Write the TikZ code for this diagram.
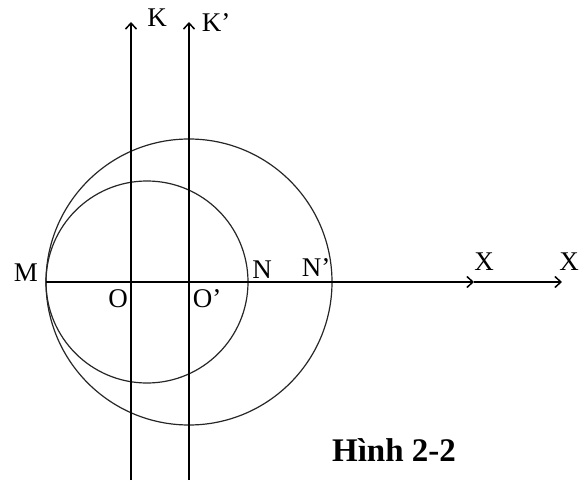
\documentclass[tikz,border=0pt]{standalone}
\usepackage{fontspec}
\setmainfont{Liberation Serif}
\usetikzlibrary{arrows.meta}
\begin{document}
\begin{tikzpicture}[x=1pt, y=-1pt, >={Straight Barb[length=6pt,width=11pt]},
    axis/.style={line width=1.5pt},
    ring/.style={line width=1.2pt, black!85},
    lbl/.style={font=\fontsize{27}{31}\selectfont, inner sep=0pt}]
  \useasboundingbox (0,0) rectangle (581,484);
  \coordinate (M) at (46,282);
  \coordinate (O) at (131,282);
  \coordinate (Op) at (189,282);
  \coordinate (N) at (247,282);
  \coordinate (Np) at (333,282);
  \coordinate (C) at (147,282);
  \coordinate (X1) at (474,282);
  \coordinate (X2) at (562,282);
  \coordinate (Kb) at (131,480);
  \coordinate (K) at (131,22);
  \coordinate (Kpb) at (189,480);
  \coordinate (Kp) at (189,22);
  % circles
  \draw[ring] (C) circle[radius=101pt];
  \draw[ring] (Op) circle[radius=143pt];
  % axes
  \draw[axis, ->] (Kb) -- (K);
  \draw[axis, ->] (Kpb) -- (Kp);
  \draw[axis, ->] (M) -- (X1);
  \draw[axis, ->] (X1) -- (X2);
  % labels
  \node[lbl] (lK) at (157,18) {K};
  \node[lbl] (lKp) at (216,23) {K’};
  \node[lbl] (lM) at (26,273) {M};
  \node[lbl] (lO) at (118,299) {O};
  \node[lbl] (lOp) at (207,299) {O’};
  \node[lbl] (lN) at (262,270) {N};
  \node[lbl] (lNp) at (316,268) {N’};
  \node[lbl] (lX1) at (484,262) {X};
  \node[lbl] (lX2) at (569,262) {X};
  \node[font=\fontsize{33}{37}\selectfont\bfseries, inner sep=0pt] (cap) at (394,450) {Hình 2-2};
\end{tikzpicture}
\end{document}
